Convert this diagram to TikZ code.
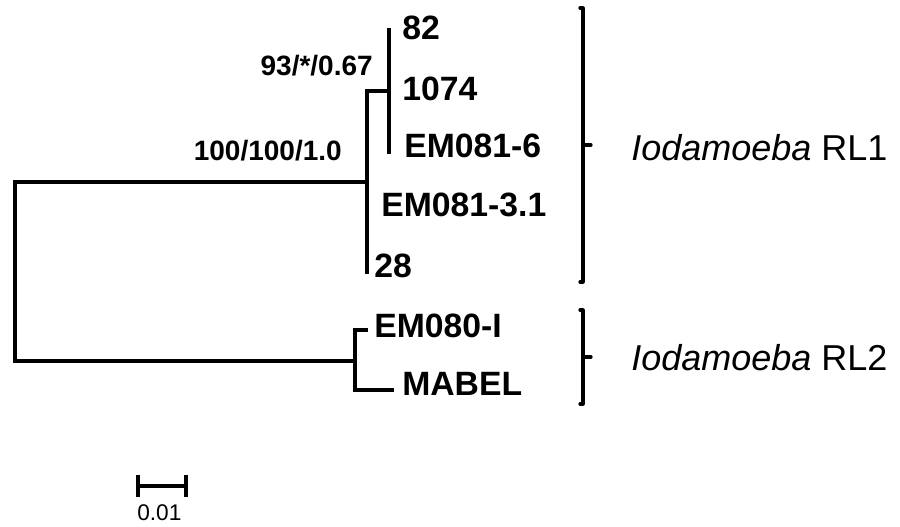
\documentclass[tikz,border=0pt]{standalone}
\usepackage{fontspec}
\setmainfont{Liberation Sans}
\usepackage{tikz}
\usetikzlibrary{positioning, calc}

\begin{document}
\begin{tikzpicture}[
    x=0.75pt, y=-0.75pt,
    branch/.style={
        line width=3pt,
        line cap=rect,
        line join=miter
    },
    bracket/.style={
        line width=2.4pt,
        line cap=round,
        line join=round
    },
    taxon/.style={
        font=\fontsize{25.3}{30}\selectfont\bfseries,
        anchor=west,
        inner sep=0pt
    },
    support/.style={
        font=\fontsize{21}{25}\selectfont\bfseries,
        anchor=base east,
        inner sep=0pt
    },
    clade/.style={
        font=\fontsize{27}{32}\selectfont,
        anchor=base west,
        inner sep=0pt
    }
]
\useasboundingbox (0,0) rectangle (900,526);

% Internal nodes
\coordinate (root) at (15,271);
\coordinate (rl1) at (367,182);
\coordinate (sub) at (389,91);
\coordinate (rl2) at (355,361);

% Tips
\coordinate (tip82) at (389,30);
\coordinate (tipEM6) at (389,152);
\coordinate (tipEM31) at (367,211);
\coordinate (tip28) at (367,272);
\coordinate (tipEMI) at (366,330);
\coordinate (tipMAB) at (392,390);

% Tree
\draw[branch] (rl1) -| (root) |- (rl2);
\draw[branch] (sub) -| (rl1) -- (tip28);
\draw[branch] (tip82) -- (tipEM6);
\draw[branch] (tipEMI) -| (rl2) |- (tipMAB);

% Taxa
\node[taxon] (n82) at (402,28) {82};
\node[taxon] (n1074) at (402,89) {1074};
\node[taxon] (nEM6) at (404,146) {EM081-6};
\node[taxon] (nEM31) at (381,205) {EM081-3.1};
\node[taxon] (n28) at (374,266) {28};
\node[taxon] (nEMI) at (374,326) {EM080-I};
\node[taxon] (nMAB) at (402,384) {MABEL};

% Support values
\node[support] (s93) at (373,75) {93/*/0.67};
\node[support] (s100) at (342,160) {100/100/1.0};

% Brackets
\draw[bracket] (580,8) -- (583,8) -- (583,282) -- (580,282);
\draw[bracket] (583,145) -- (591,145);
\draw[bracket] (580,310) -- (583,310) -- (583,404) -- (580,404);
\draw[bracket] (583,357) -- (591,357);
\node[clade] (rl1lab) at (631,160) {\textit{Iodamoeba} RL1};
\node[clade] (rl2lab) at (631,370) {\textit{Iodamoeba} RL2};

% Scale bar
\coordinate (sbl) at (138,486);
\coordinate (sbr) at (186,486);
\draw[line width=2.6pt] (sbl) -- (sbr);
\draw[line width=2.6pt] ($(sbl)+(0,-11)$) -- ($(sbl)+(0,11)$);
\draw[line width=2.6pt] ($(sbr)+(0,-11)$) -- ($(sbr)+(0,11)$);
\node[font=\fontsize{17}{20}\selectfont, anchor=base west, inner sep=0pt] (sblab) at (137,520) {0.01};

\end{tikzpicture}
\end{document}
